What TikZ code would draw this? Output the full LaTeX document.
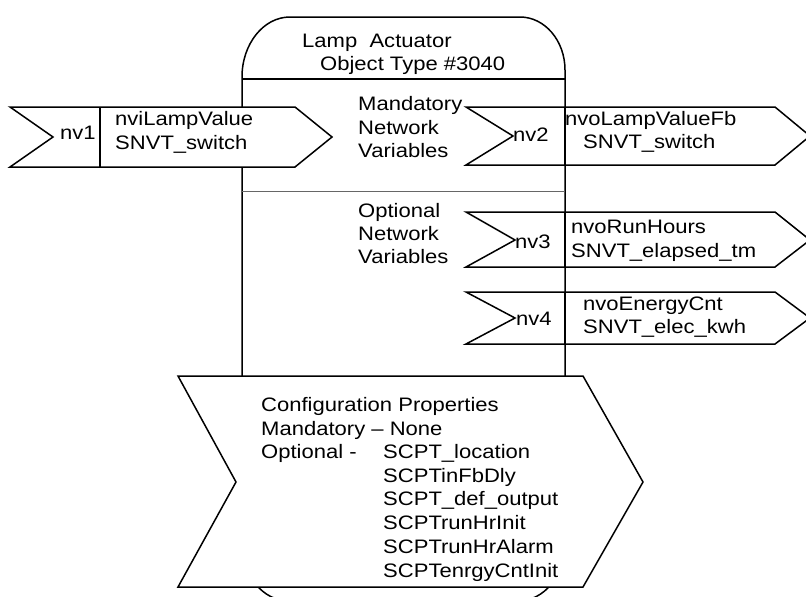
\documentclass[tikz,border=0pt]{standalone}
\usepackage{fontspec}
\newfontfamily\dgfam[FakeStretch=1.13]{Liberation Sans}
\newcommand\dgfont{\dgfam\fontsize{19.5}{23.5}\selectfont}
\tikzset{
  boxline/.style={draw=black, line width=1.5pt, line join=miter},
  nvshape/.style={boxline, fill=white},
  txt/.style={anchor=base west, inner sep=0pt, font=\dgfont, text=black},
}
\begin{document}
\begin{tikzpicture}[x=1pt, y=-1pt]
\useasboundingbox (0,0) rectangle (806,597);
\clip (0,0) rectangle (806,597);
\fill[white] (0,0) rectangle (806,597);

% functional block outline (rounded top and bottom)
\draw[boxline] (242,77) .. controls (242,43.9) and (263.5,17) .. (290,17)
  -- (520,17) .. controls (544.8,17) and (565,40.7) .. (565,70)
  -- (565,544) .. controls (565,575.5) and (544,601) .. (518,601)
  -- (289,601) .. controls (263,601) and (242,575.5) .. (242,544) -- cycle;
\draw[boxline] (242,79) -- (565,79);
\draw[draw=black!60, line width=1pt] (242,191) -- (565,191);

% header
\node[txt] (title) at (302,47) {Lamp\ \ Actuator};
\node[txt] (otype) at (320,70) {Object Type \#3040};

% section labels
\node[txt] (mand1) at (358,110) {Mandatory};
\node[txt] (mand2) at (358,134) {Network};
\node[txt] (mand3) at (358,157) {Variables};
\node[txt] (opt1) at (358,217) {Optional};
\node[txt] (opt2) at (358,240) {Network};
\node[txt] (opt3) at (358,263) {Variables};

% input network variable nv1
\draw[nvshape] (10,107) -- (295,107) -- (332,137) -- (295,167) -- (10,167) -- (53,137) -- cycle;
\draw[boxline] (100,107) -- (100,167);
\node[txt] (nv1) at (60,139) {nv1};
\node[txt] (nv1a) at (115,125) {nviLampValue};
\node[txt] (nv1b) at (115,149) {SNVT\_switch};

% output network variable nv2
\draw[nvshape] (466,107) -- (775,107) -- (810,136) -- (775,165) -- (466,165) -- (513,136) -- cycle;
\draw[boxline] (565,107) -- (565,165);
\node[txt] (nv2) at (513,141) {nv2};
\node[txt] (nv2a) at (565,125) {nvoLampValueFb};
\node[txt] (nv2b) at (583,148) {SNVT\_switch};

% output network variable nv3
\draw[nvshape] (466,212) -- (775,212) -- (810,240) -- (775,267) -- (466,267) -- (515,240) -- cycle;
\draw[boxline] (565,212) -- (565,267);
\node[txt] (nv3) at (515,248) {nv3};
\node[txt] (nv3a) at (571,233) {nvoRunHours};
\node[txt] (nv3b) at (571,257) {SNVT\_elapsed\_tm};

% output network variable nv4
\draw[nvshape] (466,292) -- (775,292) -- (810,318) -- (775,344) -- (466,344) -- (515,318) -- cycle;
\draw[boxline] (565,292) -- (565,344);
\node[txt] (nv4) at (516,325) {nv4};
\node[txt] (nv4a) at (583,310) {nvoEnergyCnt};
\node[txt] (nv4b) at (583,333) {SNVT\_elec\_kwh};

% configuration properties
\draw[nvshape] (178,376) -- (583,376) -- (643,482) -- (583,587) -- (178,587) -- (236,482) -- cycle;
\node[txt] (cp0) at (261,411) {Configuration Properties};
\node[txt] (cp1) at (261,435) {Mandatory – None};
\node[txt] (cp2) at (261,458) {Optional -};
\node[txt] (cp3) at (383,458) {SCPT\_location};
\node[txt] (cp4) at (383,482) {SCPTinFbDly};
\node[txt] (cp5) at (383,505) {SCPT\_def\_output};
\node[txt] (cp6) at (383,529) {SCPTrunHrInit};
\node[txt] (cp7) at (383,553) {SCPTrunHrAlarm};
\node[txt] (cp8) at (383,577) {SCPTenrgyCntInit};
\end{tikzpicture}
\end{document}
